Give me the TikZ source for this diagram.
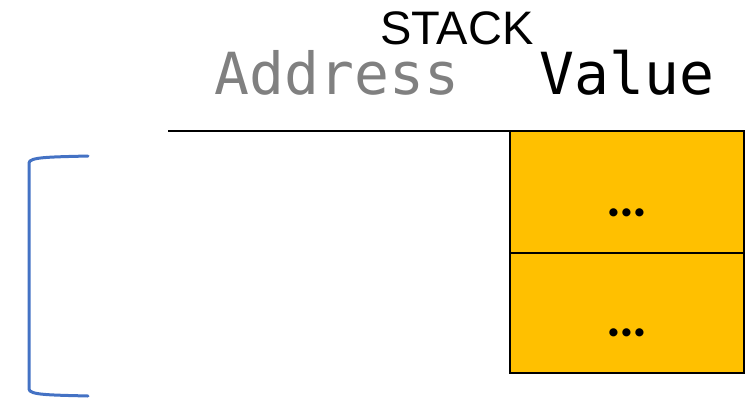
\documentclass[tikz,border=0pt]{standalone}
\usepackage{fontspec}
\setmainfont{Liberation Sans}
\newfontfamily\monofont{DejaVu Sans Mono}
\newfontfamily\dotfont{Lato}
\definecolor{cellfill}{HTML}{FFC000}
\definecolor{bracketblue}{HTML}{4472C4}
\definecolor{addrgrey}{HTML}{808080}
\tikzset{
  cell/.style={draw=black, line width=2.4pt, fill=cellfill},
  dotstext/.style={font=\dotfont\fontsize{54}{56}\selectfont\bfseries, inner sep=0pt},
  headtext/.style={inner sep=0pt, anchor=base},
}
\begin{document}
\begin{tikzpicture}[x=1pt,y=-1pt]
\useasboundingbox (0,0) rectangle (746,399);
% cells
\draw[cell] (510,131) rectangle (744,253);
\draw[cell] (510,253) rectangle (744,373);
\node[dotstext, anchor=base] (d1) at (627,216) {...};
\node[dotstext, anchor=base] (d2) at (627,336) {...};
% top line
\coordinate (lineL) at (168,131);
\coordinate (lineR) at (510,131);
\draw[line width=2.4pt] (lineL) -- (lineR);
% headings
\node[headtext, font=\fontsize{47}{50}\selectfont] (stack) at (457,44) {STACK};
\node[headtext, font=\monofont\fontsize{58}{62}\selectfont, text=addrgrey] (addr) at (337,94) {Address};
\node[headtext, font=\monofont\fontsize{58}{62}\selectfont] (val) at (627,94) {Value};
% bracket
\coordinate (bt) at (88,156);
\coordinate (bb) at (88,396);
\draw[bracketblue, line width=3pt, line cap=round]
  (bt) .. controls (50,157) and (29,157) .. (29,163)
  -- (29,389) .. controls (29,395) and (50,395) .. (bb);
\end{tikzpicture}
\end{document}
